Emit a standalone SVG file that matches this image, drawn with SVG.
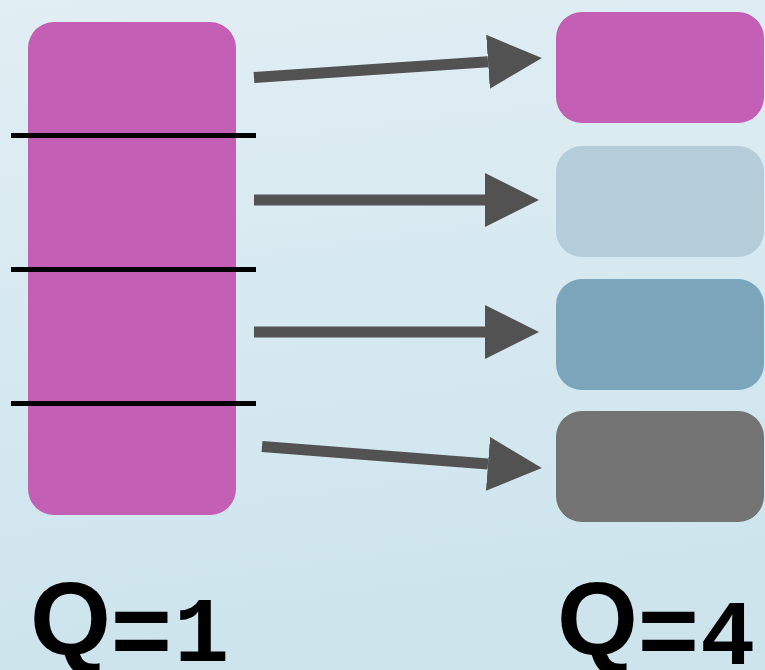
<svg xmlns="http://www.w3.org/2000/svg" width="765" height="670" viewBox="0 0 765 670">
  <defs>
    <linearGradient id="bg" x1="0" y1="0" x2="0.15" y2="1">
      <stop offset="0" stop-color="#e1eef4"/>
      <stop offset="1" stop-color="#cde4ed"/>
    </linearGradient>
    <marker id="head" viewBox="0 0 54 54" refX="0" refY="27" markerWidth="54" markerHeight="54" markerUnits="userSpaceOnUse" orient="auto">
      <path d="M0,0 L54,27 L0,54 Z" fill="#525252"/>
    </marker>
  </defs>
  <style>
    .box { stroke: none; }
    .split { stroke: #000; stroke-width: 5; }
    .arrow { stroke: #525252; stroke-width: 11; fill: none; marker-end: url(#head); }
    .label { font-family: "Liberation Sans", Arial, sans-serif; font-weight: bold; font-size: 104px; fill: #000; }
    .digit { font-family: "Liberation Mono", "DejaVu Sans Mono", monospace; font-size: 92px; }
  </style>

  <rect width="765" height="670" fill="url(#bg)"/>

  <!-- single block, Q=1 -->
  <g id="block-q1">
    <rect class="box" x="28" y="22" width="208" height="493" rx="26" fill="#c45fb6"/>
  </g>

  <!-- split lines across the block -->
  <g id="splits">
    <line class="split" x1="11" y1="135.5" x2="256" y2="135.5"/>
    <line class="split" x1="11" y1="269.5" x2="256" y2="269.5"/>
    <line class="split" x1="11" y1="403.5" x2="256" y2="403.5"/>
  </g>

  <!-- four blocks, Q=4 -->
  <g id="part-1">
    <rect class="box" x="556" y="12" width="208" height="111" rx="26" fill="#c45fb6"/>
  </g>
  <g id="part-2">
    <rect class="box" x="556" y="146" width="208" height="111" rx="26" fill="#b4cdd8"/>
  </g>
  <g id="part-3">
    <rect class="box" x="556" y="279" width="208" height="111" rx="26" fill="#7ba5bb"/>
  </g>
  <g id="part-4">
    <rect class="box" x="556" y="411" width="208" height="111" rx="26" fill="#737373"/>
  </g>

  <!-- connectors -->
  <g id="connectors">
    <line class="arrow" x1="254" y1="77.5" x2="488" y2="61.7"/>
    <line class="arrow" x1="254" y1="200" x2="485" y2="200"/>
    <line class="arrow" x1="254" y1="332" x2="485" y2="332"/>
    <line class="arrow" x1="262" y1="446.5" x2="488" y2="463.9"/>
  </g>

  <!-- labels -->
  <g id="labels">
    <text class="label" x="30" y="655">Q<tspan y="666">=</tspan><tspan class="digit" x="174" y="661">1</tspan></text>
    <text class="label" x="557" y="655">Q<tspan y="666">=</tspan><tspan class="digit" x="700" y="664">4</tspan></text>
  </g>
</svg>
